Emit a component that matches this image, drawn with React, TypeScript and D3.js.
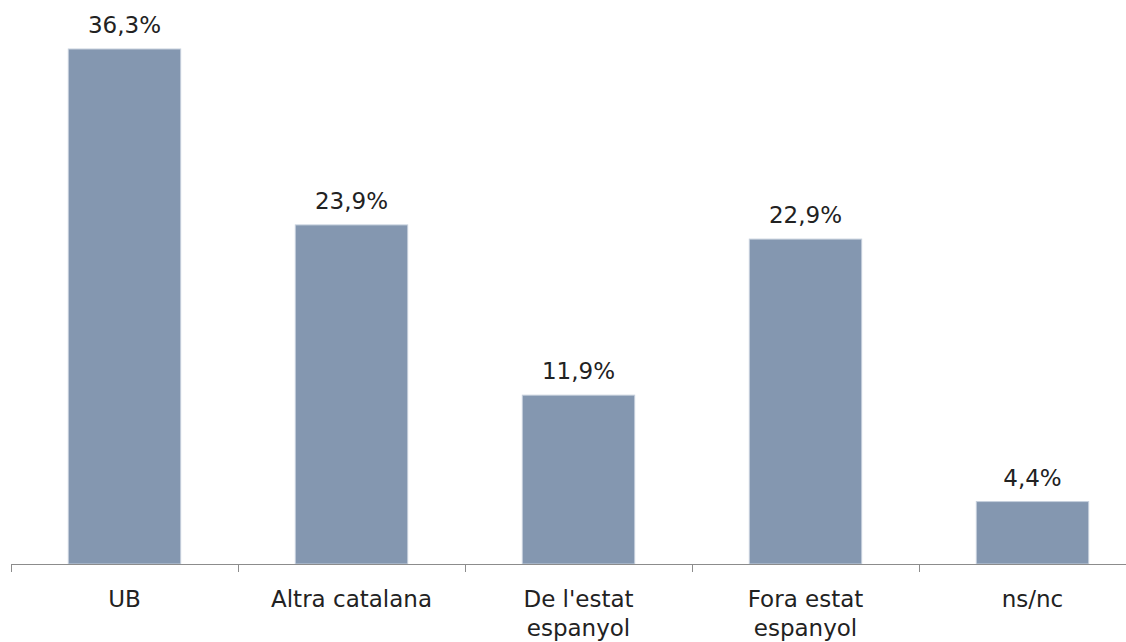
import React from "react";
import * as d3 from "d3";

const categories = ["UB", "Altra catalana", "De l'estat espanyol", "Fora estat espanyol", "ns/nc"];
const categoryLines = [["UB"], ["Altra catalana"], ["De l'estat", "espanyol"], ["Fora estat", "espanyol"], ["ns/nc"]];
const values = [36.3, 23.9, 11.9, 22.9, 4.4];
const valueLabels = ["36,3%", "23,9%", "11,9%", "22,9%", "4,4%"];

const W = 1126;
const H = 642;
const left = 11;
const bandW = 227;
const baseline = 564;
const font = "'DejaVu Sans', sans-serif";

export default function App() {
  const x = d3.scaleBand<string>().domain(categories).range([left, left + bandW * categories.length]).paddingInner(0.505).paddingOuter(0.2525);
  const y = d3.scaleLinear().domain([0, 36.3]).range([baseline, 49]);
  const ticks = d3.range(categories.length + 1).map((i) => left + i * bandW);
  return (
    <svg width={W} height={H} style={{ position: "absolute", left: 0, top: 0 }}>
      <rect width={W} height={H} fill="#fff" />
      {categories.map((c, i) => {
        const bx = x(c)!;
        const bw = x.bandwidth();
        const cx = bx + bw / 2;
        return (
          <g key={c}>
            <rect x={bx} y={y(values[i])} width={bw} height={baseline - y(values[i])} fill="#8497B0" stroke="#C5CFDC" strokeWidth={1} />
            <text x={cx} y={y(values[i]) - 16} textAnchor="middle" fontFamily={font} fontSize={23} fill="#222">{valueLabels[i]}</text>
            {categoryLines[i].map((ln, j) => (
              <text key={j} x={cx} y={607 + j * 29} textAnchor="middle" fontFamily={font} fontSize={23} fill="#222">{ln}</text>
            ))}
          </g>
        );
      })}
      <line x1={left} x2={W} y1={baseline + 0.5} y2={baseline + 0.5} stroke="#8c8c8c" strokeWidth={1} />
      {ticks.map((t, i) => (
        <line key={i} x1={t + 0.5} x2={t + 0.5} y1={baseline} y2={baseline + 8} stroke="#8c8c8c" strokeWidth={1} />
      ))}
    </svg>
  );
}
